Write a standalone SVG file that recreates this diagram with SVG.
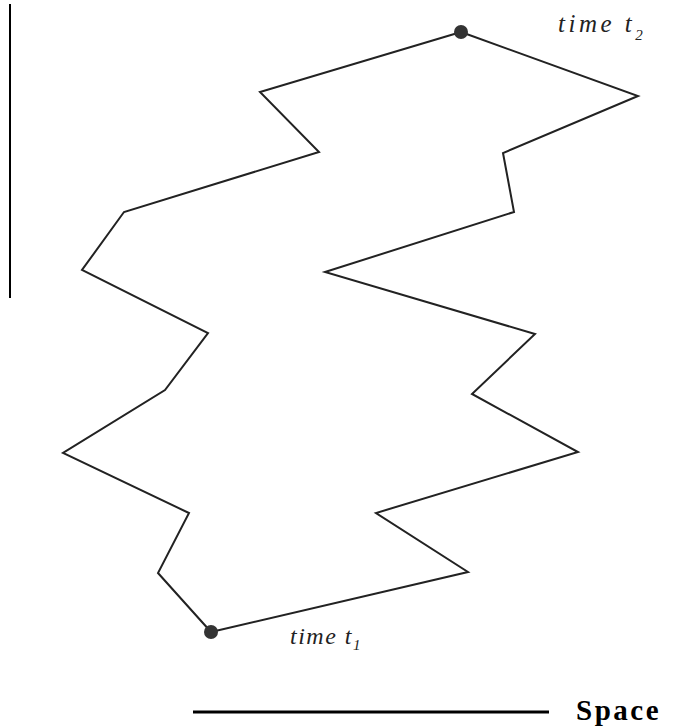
<svg xmlns="http://www.w3.org/2000/svg" width="674" height="728" viewBox="0 0 674 728">
<style>
.path{fill:none;stroke:#222;stroke-width:2;stroke-linejoin:miter}
.dot{fill:#333}
.hand{font-family:"Liberation Serif",serif;font-style:italic;font-size:24px;letter-spacing:1.5px;fill:#222}
.wide{font-size:25px;letter-spacing:3.5px}
.sub{font-size:15px}
.axis{stroke:#000}
.space{font-family:"Liberation Serif",serif;font-weight:bold;font-size:29px;letter-spacing:2.5px;fill:#000}
</style>
<rect width="674" height="728" fill="#fff"/>
<g id="connectors">
<polyline id="left-path" class="path" points="211,632 158,573 189,513 63,453 165,390 208,333 82,270 124,212 319,152 260,92 461,32"/>
<polyline id="right-path" class="path" points="211,632 468,572 376,513 578,452 472,394 535,334 325,272 514,212 503,153 638,96 461,32"/>
</g>
<g id="node-t1">
<circle class="dot" cx="211" cy="632" r="7"/>
<text class="hand" x="290" y="644">time  t<tspan class="sub" dy="6">1</tspan></text>
</g>
<g id="node-t2">
<circle class="dot" cx="461" cy="32" r="7"/>
<text class="hand wide" x="558" y="32">time  t<tspan class="sub" dy="8">2</tspan></text>
</g>
<g id="time-axis">
<line class="axis" x1="10" y1="4" x2="10" y2="298" stroke-width="2"/>
</g>
<g id="space-axis">
<line class="axis" x1="193" y1="712" x2="549" y2="712" stroke-width="3"/>
<text class="space" x="576" y="720">Space</text>
</g>
</svg>
